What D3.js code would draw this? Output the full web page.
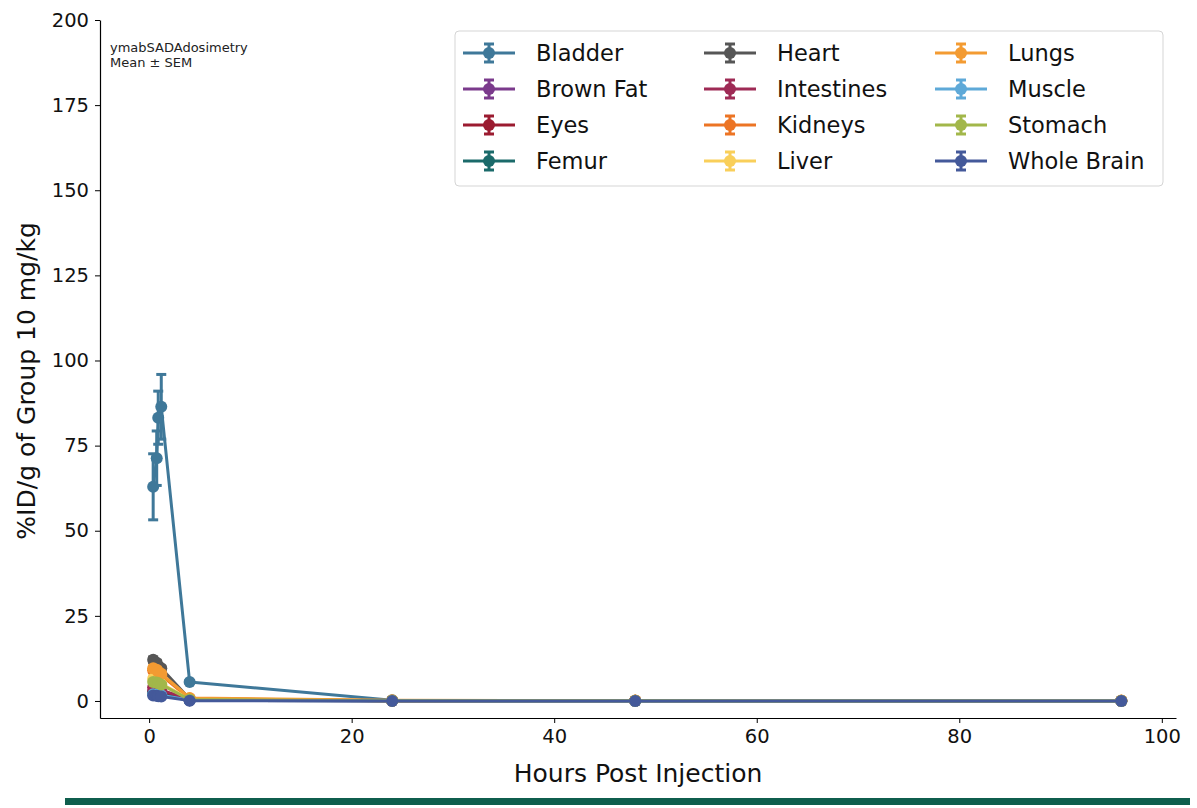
<!DOCTYPE html>
<html>
<head>
<meta charset="utf-8">
<script src="https://cdn.jsdelivr.net/npm/d3@7"></script>
<style>
    body { margin: 0; background: #fff; }
    svg { font-family: 'DejaVu Sans', sans-serif; }
</style>
</head>
<body>
<div id="chart"></div>
<script>
// Sampling times (hours post injection)
const hours = [0.4, 0.75, 0.9, 1.2, 4, 24, 48, 96];

const organs = ['Bladder', 'Brown Fat', 'Eyes', 'Femur', 'Heart', 'Intestines',
    'Kidneys', 'Liver', 'Lungs', 'Muscle', 'Stomach', 'Whole Brain'];

const colors = ['#3f7899', '#7b3a8c', '#9b1b30', '#1b6a6a', '#565656', '#9e2a55',
    '#ec7424', '#f9cf5a', '#f39b32', '#5ea9d8', '#a2b74a', '#44599a'];

// mean %ID/g per organ (same order as organs)
const means = [
    [62.9, 71.3, 83.2, 86.4, 5.6, 0.2, 0.1, 0.05],
    [3.0, 2.8, 2.6, 2.4, 0.3, 0.05, 0.03, 0.02],
    [2.6, 2.5, 2.3, 2.1, 0.2, 0.03, 0.02, 0.01],
    [2.2, 2.0, 1.9, 1.8, 0.2, 0.03, 0.02, 0.01],
    [12.1, 11.2, 10.2, 9.6, 0.6, 0.08, 0.05, 0.03],
    [4.0, 3.8, 3.5, 3.2, 0.5, 0.06, 0.04, 0.02],
    [9.0, 8.6, 8.0, 7.5, 0.7, 0.1, 0.06, 0.04],
    [6.5, 6.0, 5.5, 5.0, 0.6, 0.1, 0.06, 0.04],
    [9.6, 9.2, 8.6, 8.0, 0.9, 0.18, 0.15, 0.12],
    [2.0, 1.9, 1.8, 1.7, 0.2, 0.03, 0.02, 0.01],
    [5.6, 5.4, 5.2, 4.8, 0.4, 0.05, 0.03, 0.02],
    [1.6, 1.5, 1.4, 1.3, 0.1, 0.02, 0.01, 0.01]
];

// SEM per organ
const sems = [
    [9.7, 8.0, 7.8, 9.5, 0.4, 0.05, 0.02, 0.01],
    [0.4, 0.3, 0.3, 0.3, 0.05, 0.01, 0.01, 0.01],
    [0.3, 0.3, 0.3, 0.3, 0.05, 0.01, 0.01, 0.01],
    [0.3, 0.3, 0.3, 0.3, 0.05, 0.01, 0.01, 0.01],
    [0.8, 0.7, 0.7, 0.6, 0.1, 0.01, 0.01, 0.01],
    [0.5, 0.4, 0.4, 0.4, 0.1, 0.01, 0.01, 0.01],
    [0.7, 0.6, 0.6, 0.5, 0.1, 0.01, 0.01, 0.01],
    [0.6, 0.5, 0.5, 0.5, 0.1, 0.01, 0.01, 0.01],
    [0.7, 0.6, 0.6, 0.6, 0.1, 0.02, 0.02, 0.02],
    [0.3, 0.3, 0.3, 0.3, 0.05, 0.01, 0.01, 0.01],
    [0.5, 0.5, 0.4, 0.4, 0.05, 0.01, 0.01, 0.01],
    [0.2, 0.2, 0.2, 0.2, 0.02, 0.01, 0.01, 0.01]
];

const xTicks = [0, 20, 40, 60, 80, 100];
const yTicks = [0, 25, 50, 75, 100, 125, 150, 175, 200];

const width = 1197;
const height = 808;

const svg = d3.select('#chart')
    .append('svg')
    .attr('width', width)
    .attr('height', height);

const x = d3.scaleLinear().domain([-4.85, 101.4]).range([100, 1176]);
const y = d3.scaleLinear().domain([-5, 200]).range([718, 20]);

// Axes
const xAxis = svg.append('g')
    .attr('transform', `translate(0,${y(-5)})`)
    .call(d3.axisBottom(x).tickValues(xTicks).tickSize(5).tickPadding(6).tickSizeOuter(0));
const yAxis = svg.append('g')
    .attr('transform', `translate(${x(-4.85)},0)`)
    .call(d3.axisLeft(y).tickValues(yTicks).tickSize(5).tickPadding(6).tickSizeOuter(0));

[xAxis, yAxis].forEach(a => {
    a.select('.domain').attr('stroke', '#000').attr('stroke-width', 1.2);
    a.selectAll('.tick line').attr('stroke', '#000').attr('stroke-width', 1);
    a.selectAll('.tick text')
        .attr('font-size', 19.5)
        .attr('fill', '#111')
        .style('font-family', "'DejaVu Sans', sans-serif");
});

// Axis labels
svg.append('text')
    .attr('x', 638)
    .attr('y', 782)
    .attr('text-anchor', 'middle')
    .attr('font-size', 25)
    .attr('fill', '#111')
    .text('Hours Post Injection');

svg.append('text')
    .attr('transform', `translate(35,${y(94)}) rotate(-90)`)
    .attr('text-anchor', 'middle')
    .attr('font-size', 25)
    .attr('fill', '#111')
    .text('%ID/g of Group 10 mg/kg');

// Annotation
svg.append('text')
    .attr('x', 110).attr('y', 52)
    .attr('font-size', 13).attr('fill', '#222')
    .text('ymabSADAdosimetry');
svg.append('text')
    .attr('x', 110).attr('y', 67)
    .attr('font-size', 13).attr('fill', '#222')
    .text('Mean \u00b1 SEM');

// Series
const line = d3.line()
    .x(d => x(d.h))
    .y(d => y(d.m));

organs.forEach((organ, i) => {
    const pts = hours.map((h, j) => ({ h, m: means[i][j], s: sems[i][j] }));
    const g = svg.append('g').attr('class', 'series');

    g.append('path')
        .datum(pts)
        .attr('d', line)
        .attr('fill', 'none')
        .attr('stroke', colors[i])
        .attr('stroke-width', 3)
        .attr('stroke-linejoin', 'round');

    // Error bars
    const eb = g.selectAll('.err')
        .data(pts)
        .enter()
        .append('g');
    eb.append('line')
        .attr('x1', d => x(d.h)).attr('x2', d => x(d.h))
        .attr('y1', d => y(d.m - d.s)).attr('y2', d => y(d.m + d.s))
        .attr('stroke', colors[i]).attr('stroke-width', 3);
    [-1, 1].forEach(sign => {
        eb.append('line')
            .attr('x1', d => x(d.h) - 5).attr('x2', d => x(d.h) + 5)
            .attr('y1', d => y(d.m + sign * d.s)).attr('y2', d => y(d.m + sign * d.s))
            .attr('stroke', colors[i]).attr('stroke-width', 3);
    });

    g.selectAll('circle')
        .data(pts)
        .enter()
        .append('circle')
        .attr('cx', d => x(d.h))
        .attr('cy', d => y(d.m))
        .attr('r', 6)
        .attr('fill', colors[i]);
});

// Legend
const legend = svg.append('g');
legend.append('rect')
    .attr('x', 455).attr('y', 31)
    .attr('width', 708).attr('height', 155)
    .attr('rx', 4)
    .attr('fill', 'rgba(255,255,255,0.85)')
    .attr('stroke', '#d5d5d5')
    .attr('stroke-width', 1);

const colX = [463, 704, 935];
organs.forEach((organ, i) => {
    const cx = colX[Math.floor(i / 4)];
    const cy = 53 + (i % 4) * 36;
    const item = legend.append('g');
    item.append('line')
        .attr('x1', cx).attr('x2', cx + 52)
        .attr('y1', cy).attr('y2', cy)
        .attr('stroke', colors[i]).attr('stroke-width', 3);
    item.append('line')
        .attr('x1', cx + 26).attr('x2', cx + 26)
        .attr('y1', cy - 9).attr('y2', cy + 9)
        .attr('stroke', colors[i]).attr('stroke-width', 3);
    [-9, 9].forEach(dy => {
        item.append('line')
            .attr('x1', cx + 21).attr('x2', cx + 31)
            .attr('y1', cy + dy).attr('y2', cy + dy)
            .attr('stroke', colors[i]).attr('stroke-width', 3);
    });
    item.append('circle')
        .attr('cx', cx + 26).attr('cy', cy).attr('r', 6)
        .attr('fill', colors[i]);
    item.append('text')
        .attr('x', cx + 73).attr('y', cy + 8)
        .attr('font-size', 22.5)
        .attr('fill', '#111')
        .text(organ);
});

// Bottom brand bar
svg.append('rect')
    .attr('x', 65).attr('y', 798)
    .attr('width', 1125).attr('height', 7)
    .attr('fill', '#0f5e4d');
</script>
</body>
</html>
